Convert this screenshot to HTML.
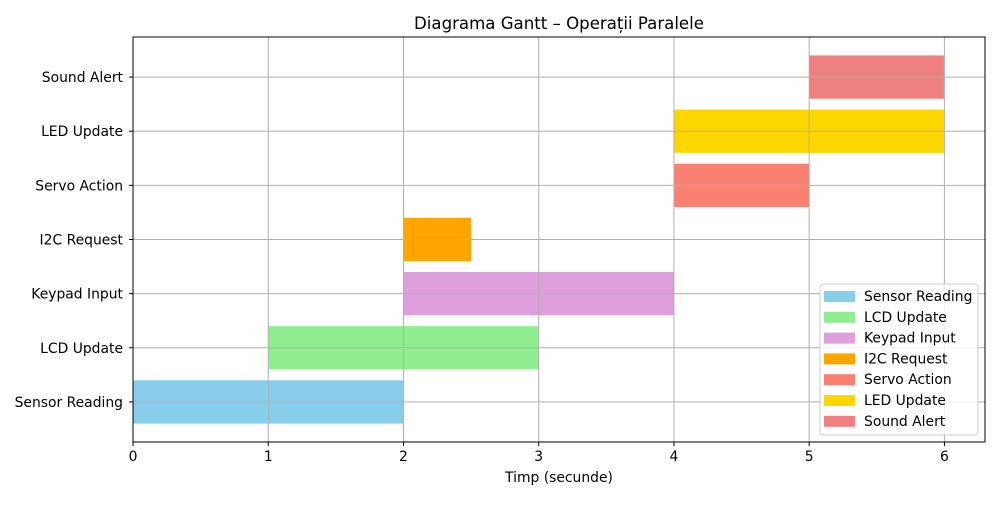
<!DOCTYPE html>
<html><head><meta charset="utf-8"><style>
body{margin:0;background:#fff;font-family:"Liberation Sans","DejaVu Sans",sans-serif}
svg text{font-family:"DejaVu Sans","Liberation Sans",sans-serif}
</style></head><body>
<svg id="c" width="1000" height="500" xmlns="http://www.w3.org/2000/svg"></svg>
<script>
const tasks=["Sensor Reading","LCD Update","Keypad Input","I2C Request","Servo Action","LED Update","Sound Alert"];
const starts=[0,1,2,2,4,4,5];
const durations=[2,2,2,0.5,1,2,1];
const colors=["#87CEEB","#90EE90","#DDA0DD","#FFA500","#FA8072","#FFD700","#F08080"];
const xTicks=[0,1,2,3,4,5,6];
const X0=133,X1=985,Y0=37,Y1=442,xmin=0,xmax=6.3,ymin=-0.74,ymax=6.74;
const sx=v=>X0+(v-xmin)/(xmax-xmin)*(X1-X0);
const sy=v=>Y1-(v-ymin)/(ymax-ymin)*(Y1-Y0);
const svg=document.getElementById('c');const NS="http://www.w3.org/2000/svg";
function mk(t,a,txt){const e=document.createElementNS(NS,t);for(const k in a)e.setAttribute(k,a[k]);if(txt!=null)e.textContent=txt;svg.appendChild(e);return e;}
const bh=sy(0)-sy(0.8);
tasks.forEach((t,i)=>{
 const r=mk('rect',{x:sx(starts[i]),y:sy(i)-bh/2,width:sx(starts[i]+durations[i])-sx(starts[i]),height:bh,fill:colors[i]});
 
 
});
xTicks.forEach(v=>{
 const g=mk('line',{x1:sx(v),x2:sx(v),y1:Y0,y2:Y1,stroke:'#b0b0b0','stroke-width':1});
 
 mk('line',{x1:sx(v),x2:sx(v),y1:Y1,y2:Y1+4,stroke:'#000'});
 const l=mk('text',{x:sx(v),y:Y1+19,'font-size':13.9,'text-anchor':'middle'},v);
 
});
tasks.forEach((t,i)=>{
 const g=mk('line',{x1:X0,x2:X1,y1:sy(i),y2:sy(i),stroke:'#b0b0b0','stroke-width':1});
 
 mk('line',{x1:X0-4,x2:X0,y1:sy(i),y2:sy(i),stroke:'#000'});
 const l=mk('text',{x:X0-10,y:sy(i)+5,'font-size':13.9,'text-anchor':'end'},t);
 
});
const f=mk('rect',{x:X0,y:Y0,width:X1-X0,height:Y1-Y0,fill:'none',stroke:'#000','stroke-width':1});

const ti=mk('text',{x:(X0+X1)/2+0,y:29,'font-size':16.6,'text-anchor':'middle'},'Diagrama Gantt – Operații Paralele');

const xt=mk('text',{x:(X0+X1)/2,y:482,'font-size':13.9,'text-anchor':'middle'},'Timp (secunde)');

const lb=mk('rect',{x:820,y:284,width:158,height:151,fill:'#fff','fill-opacity':0.8,stroke:'#ccc',rx:3});

tasks.forEach((t,i)=>{
 const y=296+i*20.8;
 const p=mk('rect',{x:824,y:y-5,width:31,height:11,fill:colors[i]});
 
 const l=mk('text',{x:864,y:y+5,'font-size':13.9},t);
 
});
</script>
</body></html>
